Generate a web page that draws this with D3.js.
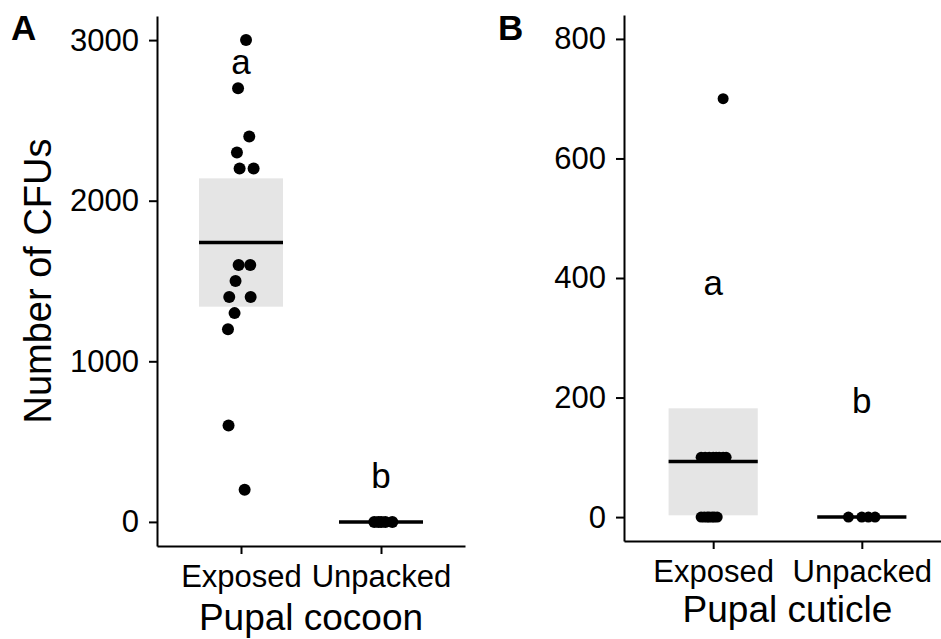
<!DOCTYPE html>
<html>
<head>
<meta charset="utf-8">
<script src="https://cdn.jsdelivr.net/npm/d3@7"></script>
<style>
  body { margin: 0; background: #fff; }
  text { font-family: "Liberation Sans", Arial, sans-serif; fill: #000; }
</style>
</head>
<body>
<svg id="chart" width="941" height="639"></svg>
<script>
// categories
var groups = ["Exposed", "Unpacked"];

// panel A - pupal cocoon (CFU counts, x jitter as fraction of category step)
var cocoonExposed = [3000, 2700, 2400, 2300, 2200, 2200, 1600, 1600, 1500, 1400, 1400, 1300, 1200, 600, 200];
var cocoonExposedJitter = [0.036, -0.021, 0.059, -0.029, -0.010, 0.090, -0.017, 0.066, -0.039, -0.084, 0.069, -0.046, -0.093, -0.089, 0.026];
var cocoonUnpacked = [0, 0, 0, 0, 0];
var cocoonUnpackedJitter = [-0.048, -0.019, 0.002, 0.031, 0.081];
// mean and interval [mean, low, high]
var cocoonSummary = [[1740, 1340, 2139], [0, 0, 0]];
var cocoonTicks = [0, 1000, 2000, 3000];
var cocoonLetters = ["a", "b"];
var cocoonLetterY = [2870, 290];

// panel B - pupal cuticle
var cuticleExposed = [700, 100, 100, 100, 100, 100, 100, 100, 100, 0, 0, 0, 0, 0, 0, 0];
var cuticleExposedJitter = [0.067, -0.081, -0.054, -0.027, 0, 0.02, 0.04, 0.067, 0.087, -0.081, -0.06, -0.04, -0.027, -0.007, 0.007, 0.027];
var cuticleUnpacked = [0, 0, 0, 0];
var cuticleUnpackedJitter = [-0.09, 0, 0.044, 0.089];
var cuticleSummary = [[93, 3, 182], [0, 0, 0]];
var cuticleTicks = [0, 200, 400, 600, 800];
var cuticleLetters = ["a", "b"];
var cuticleLetterY = [392, 195];

var svg = d3.select("#chart");

function drawPanel(o) {
    var g = svg.append("g");
    var x = d3.scalePoint().domain(groups).range([o.left, o.right]).padding(0.6);
    var y = d3.scaleLinear().domain(o.yDomain).range([o.bottom, o.top]);
    var step = x.step();
    var bw = step * 0.6;

    // summary boxes
    g.selectAll("rect.ci")
        .data(o.summary)
        .enter().append("rect")
        .attr("class", "ci")
        .attr("x", function(d, i){ return x(groups[i]) - bw / 2; })
        .attr("width", bw)
        .attr("y", function(d){ return y(d[2]); })
        .attr("height", function(d){ return y(d[1]) - y(d[2]); })
        .attr("fill", "#e5e5e5");

    g.selectAll("line.mean")
        .data(o.summary)
        .enter().append("line")
        .attr("class", "mean")
        .attr("x1", function(d, i){ return x(groups[i]) - bw / 2; })
        .attr("x2", function(d, i){ return x(groups[i]) + bw / 2; })
        .attr("y1", function(d){ return y(d[0]); })
        .attr("y2", function(d){ return y(d[0]); })
        .attr("stroke", "#000")
        .attr("stroke-width", 3.5);

    // points
    o.points.forEach(function(p, i){
        g.selectAll(null)
            .data(p.values)
            .enter().append("circle")
            .attr("cx", function(d, j){ return x(groups[i]) + p.jitter[j] * step; })
            .attr("cy", function(d){ return y(d); })
            .attr("r", o.r)
            .attr("fill", "#000");
    });

    // significance letters
    g.selectAll("text.letter")
        .data(o.letters)
        .enter().append("text")
        .attr("class", "letter")
        .attr("x", function(d, i){ return x(groups[i]); })
        .attr("y", function(d, i){ return y(o.letterY[i]); })
        .attr("dy", "0.36em")
        .attr("text-anchor", "middle")
        .style("font-size", "35px")
        .text(function(d){ return d; });

    // axes
    var yAxis = g.append("g")
        .attr("transform", "translate(" + o.left + ",0)")
        .call(d3.axisLeft(y).tickValues(o.ticks).tickFormat(d3.format("d"))
            .tickSize(8).tickSizeOuter(0).tickPadding(10));
    var xAxis = g.append("g")
        .attr("transform", "translate(0," + o.bottom + ")")
        .call(d3.axisBottom(x).tickSize(8).tickSizeOuter(0).tickPadding(11));
    [yAxis, xAxis].forEach(function(a){
        a.select(".domain").attr("stroke", "#000").attr("stroke-width", 2);
        a.selectAll(".tick line").attr("stroke", "#000").attr("stroke-width", 2);
        a.selectAll(".tick text").style("font-size", "31px").attr("fill", "#000")
            .style("font-family", "'Liberation Sans', Arial, sans-serif");
    });

    g.append("text")
        .attr("x", (o.left + o.right) / 2)
        .attr("y", o.titleY)
        .attr("text-anchor", "middle")
        .style("font-size", "37px")
        .text(o.title);

    g.append("text")
        .attr("x", o.tagX)
        .attr("y", 40)
        .style("font-size", "35px")
        .style("font-weight", "bold")
        .text(o.tag);
}

drawPanel({
    left: 157, right: 465, top: 16, bottom: 546,
    yDomain: [-150, 3150], ticks: cocoonTicks, r: 6,
    summary: cocoonSummary,
    points: [{values: cocoonExposed, jitter: cocoonExposedJitter},
             {values: cocoonUnpacked, jitter: cocoonUnpackedJitter}],
    letters: cocoonLetters, letterY: cocoonLetterY,
    title: "Pupal cocoon", titleY: 630, tag: "A", tagX: 11
});

drawPanel({
    left: 624, right: 951, top: 15, bottom: 541,
    yDomain: [-40, 840], ticks: cuticleTicks, r: 5.5,
    summary: cuticleSummary,
    points: [{values: cuticleExposed, jitter: cuticleExposedJitter},
             {values: cuticleUnpacked, jitter: cuticleUnpackedJitter}],
    letters: cuticleLetters, letterY: cuticleLetterY,
    title: "Pupal cuticle", titleY: 622, tag: "B", tagX: 498
});

svg.append("text")
    .attr("transform", "translate(51,281) rotate(-90)")
    .attr("text-anchor", "middle")
    .style("font-size", "38px")
    .text("Number of CFUs");
</script>
</body>
</html>
